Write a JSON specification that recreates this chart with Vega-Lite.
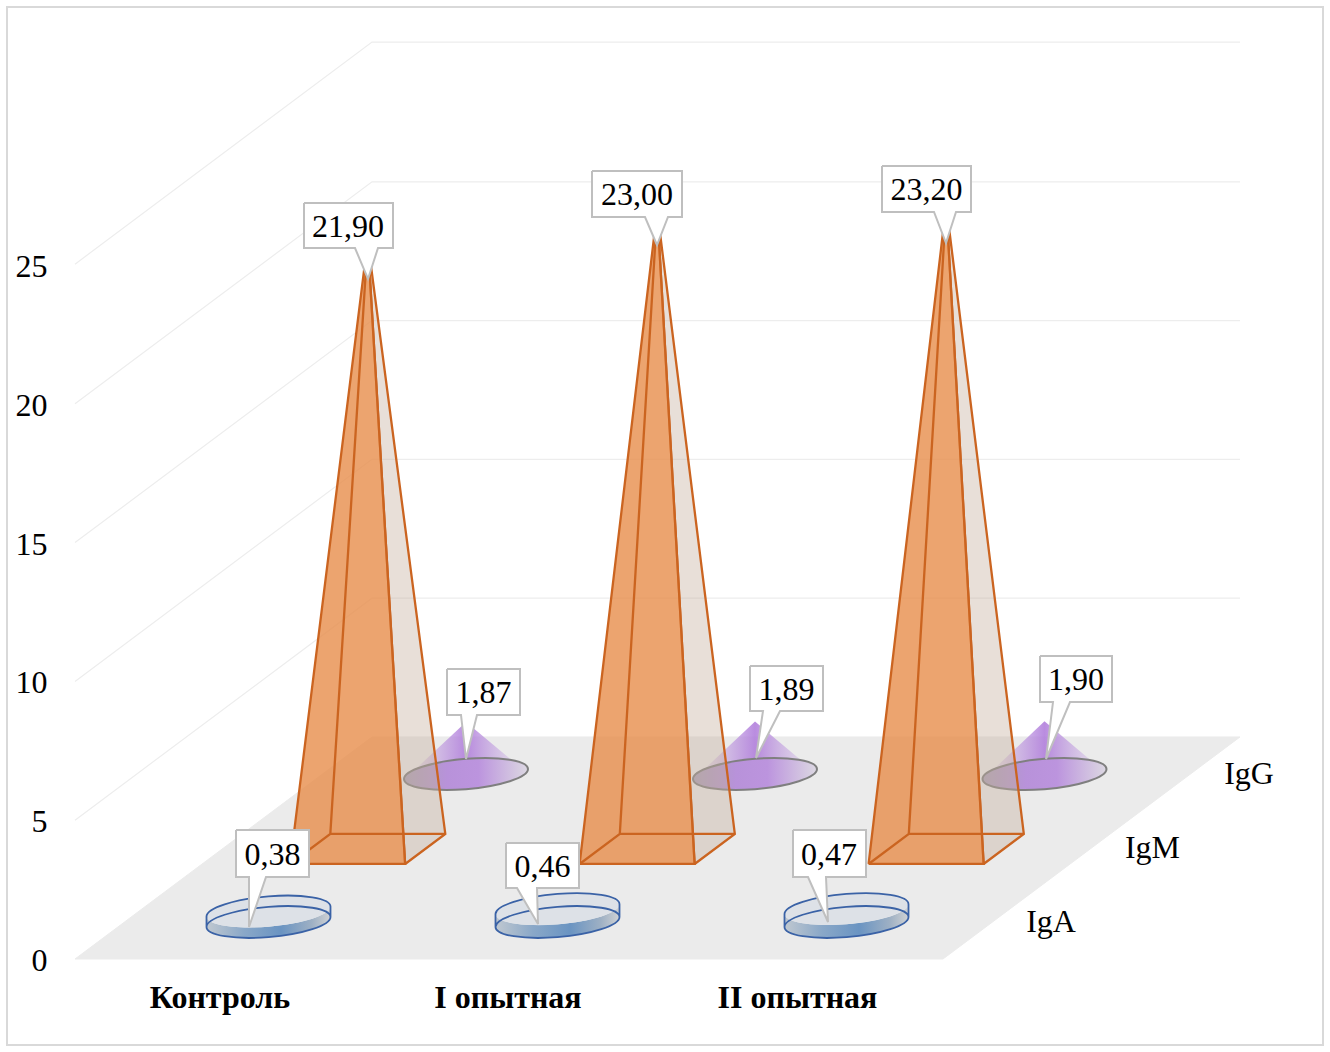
{
"$schema":"https://vega.github.io/schema/vega-lite/v6.json",
"width":1316,"height":1038,"autosize":{"type":"none"},
"padding":{"left":7,"top":7,"right":7,"bottom":7},
"background":"#ffffff",
"view":{"stroke":"#d9d9d9","strokeWidth":2,"fill":"#ffffff"},
"data":{"values":[
{"kind":"grid","poly":"g5","i":0,"u":75,"d":0,"v":5},{"kind":"grid","poly":"g5","i":1,"u":75,"d":3,"v":5},{"kind":"grid","poly":"g5","i":2,"u":943,"d":3,"v":5},
{"kind":"grid","poly":"g10","i":0,"u":75,"d":0,"v":10},{"kind":"grid","poly":"g10","i":1,"u":75,"d":3,"v":10},{"kind":"grid","poly":"g10","i":2,"u":943,"d":3,"v":10},
{"kind":"grid","poly":"g15","i":0,"u":75,"d":0,"v":15},{"kind":"grid","poly":"g15","i":1,"u":75,"d":3,"v":15},{"kind":"grid","poly":"g15","i":2,"u":943,"d":3,"v":15},
{"kind":"grid","poly":"g20","i":0,"u":75,"d":0,"v":20},{"kind":"grid","poly":"g20","i":1,"u":75,"d":3,"v":20},{"kind":"grid","poly":"g20","i":2,"u":943,"d":3,"v":20},
{"kind":"grid","poly":"g25","i":0,"u":75,"d":0,"v":25.03},{"kind":"grid","poly":"g25","i":1,"u":75,"d":3,"v":25.03},{"kind":"grid","poly":"g25","i":2,"u":943,"d":3,"v":25.03},
{"kind":"floor","poly":"floor","i":0,"u":75,"d":0,"v":0},{"kind":"floor","poly":"floor","i":1,"u":943,"d":0,"v":0},{"kind":"floor","poly":"floor","i":2,"u":943,"d":3,"v":0},{"kind":"floor","poly":"floor","i":3,"u":75,"d":3,"v":0},{"kind":"floor","poly":"floor","i":4,"u":75,"d":0,"v":0},

{"kind":"cone","poly":"c1","i":0,"u":158.5,"d":2.5,"v":-0.144},{"kind":"cone","poly":"c1","i":1,"u":218.5,"d":2.5,"v":1.87},{"kind":"cone","poly":"c1","i":2,"u":278.5,"d":2.5,"v":0.072},
{"kind":"cone","poly":"c2","i":0,"u":447.5,"d":2.5,"v":-0.144},{"kind":"cone","poly":"c2","i":1,"u":507.5,"d":2.5,"v":1.89},{"kind":"cone","poly":"c2","i":2,"u":567.5,"d":2.5,"v":0.072},
{"kind":"cone","poly":"c3","i":0,"u":737,"d":2.5,"v":-0.144},{"kind":"cone","poly":"c3","i":1,"u":797,"d":2.5,"v":1.9},{"kind":"cone","poly":"c3","i":2,"u":857,"d":2.5,"v":0.072},
{"kind":"base","series":"IgG","group":"Контроль","u":218.5,"d":2.5,"v":0},
{"kind":"base","series":"IgG","group":"I опытная","u":507.5,"d":2.5,"v":0},
{"kind":"base","series":"IgG","group":"II опытная","u":797,"d":2.5,"v":0},

{"kind":"right","poly":"r1","i":0,"u":278,"d":1.284,"v":0},{"kind":"right","poly":"r1","i":1,"u":278,"d":1.69,"v":0},{"kind":"right","poly":"r1","i":2,"u":220.5,"d":1.487,"v":21.9},{"kind":"right","poly":"r1","i":3,"u":278,"d":1.284,"v":0},
{"kind":"edge","poly":"e1a","i":0,"u":163,"d":1.284,"v":0},{"kind":"edge","poly":"e1a","i":1,"u":163,"d":1.69,"v":0},{"kind":"edge","poly":"e1a","i":2,"u":220.5,"d":1.487,"v":21.9},
{"kind":"edge","poly":"e1b","i":0,"u":163,"d":1.69,"v":0},{"kind":"edge","poly":"e1b","i":1,"u":278,"d":1.69,"v":0},
{"kind":"front","poly":"f1","i":0,"u":163,"d":1.284,"v":0},{"kind":"front","poly":"f1","i":1,"u":278,"d":1.284,"v":0},{"kind":"front","poly":"f1","i":2,"u":220.5,"d":1.487,"v":21.9},{"kind":"front","poly":"f1","i":3,"u":163,"d":1.284,"v":0},

{"kind":"right","poly":"r2","i":0,"u":567.5,"d":1.284,"v":0},{"kind":"right","poly":"r2","i":1,"u":567.5,"d":1.69,"v":0},{"kind":"right","poly":"r2","i":2,"u":510,"d":1.487,"v":23},{"kind":"right","poly":"r2","i":3,"u":567.5,"d":1.284,"v":0},
{"kind":"edge","poly":"e2a","i":0,"u":452.5,"d":1.284,"v":0},{"kind":"edge","poly":"e2a","i":1,"u":452.5,"d":1.69,"v":0},{"kind":"edge","poly":"e2a","i":2,"u":510,"d":1.487,"v":23},
{"kind":"edge","poly":"e2b","i":0,"u":452.5,"d":1.69,"v":0},{"kind":"edge","poly":"e2b","i":1,"u":567.5,"d":1.69,"v":0},
{"kind":"front","poly":"f2","i":0,"u":452.5,"d":1.284,"v":0},{"kind":"front","poly":"f2","i":1,"u":567.5,"d":1.284,"v":0},{"kind":"front","poly":"f2","i":2,"u":510,"d":1.487,"v":23},{"kind":"front","poly":"f2","i":3,"u":452.5,"d":1.284,"v":0},

{"kind":"right","poly":"r3","i":0,"u":856.5,"d":1.284,"v":0},{"kind":"right","poly":"r3","i":1,"u":856.5,"d":1.69,"v":0},{"kind":"right","poly":"r3","i":2,"u":799,"d":1.487,"v":23.2},{"kind":"right","poly":"r3","i":3,"u":856.5,"d":1.284,"v":0},
{"kind":"edge","poly":"e3a","i":0,"u":741.5,"d":1.284,"v":0},{"kind":"edge","poly":"e3a","i":1,"u":741.5,"d":1.69,"v":0},{"kind":"edge","poly":"e3a","i":2,"u":799,"d":1.487,"v":23.2},
{"kind":"edge","poly":"e3b","i":0,"u":741.5,"d":1.69,"v":0},{"kind":"edge","poly":"e3b","i":1,"u":856.5,"d":1.69,"v":0},
{"kind":"front","poly":"f3","i":0,"u":741.5,"d":1.284,"v":0},{"kind":"front","poly":"f3","i":1,"u":856.5,"d":1.284,"v":0},{"kind":"front","poly":"f3","i":2,"u":799,"d":1.487,"v":23.2},{"kind":"front","poly":"f3","i":3,"u":741.5,"d":1.284,"v":0},

{"kind":"body","series":"IgA","group":"Контроль","value":0.38,"u":219,"d":0.5,"v":0},
{"kind":"body2","series":"IgA","group":"I опытная","value":0.46,"u":508,"d":0.5,"v":0},
{"kind":"body2","series":"IgA","group":"II опытная","value":0.47,"u":797,"d":0.5,"v":0},
{"kind":"top","series":"IgA","group":"Контроль","u":219,"d":0.5,"v":0.38},
{"kind":"top","series":"IgA","group":"I опытная","u":508,"d":0.5,"v":0.46},
{"kind":"top","series":"IgA","group":"II опытная","u":797,"d":0.5,"v":0.47},

{"kind":"call","poly":"k1","i":0,"u":304,"d":0,"v":27.233},{"kind":"call","poly":"k1","i":1,"u":393,"d":0,"v":27.233},{"kind":"call","poly":"k1","i":2,"u":393,"d":0,"v":25.612},{"kind":"call","poly":"k1","i":3,"u":378,"d":0,"v":25.612},{"kind":"call","poly":"k1","i":4,"u":368,"d":0,"v":24.496},{"kind":"call","poly":"k1","i":5,"u":355,"d":0,"v":25.612},{"kind":"call","poly":"k1","i":6,"u":304,"d":0,"v":25.612},{"kind":"call","poly":"k1","i":7,"u":304,"d":0,"v":27.233},
{"kind":"call","poly":"k2","i":0,"u":592,"d":0,"v":28.386},{"kind":"call","poly":"k2","i":1,"u":682,"d":0,"v":28.386},{"kind":"call","poly":"k2","i":2,"u":682,"d":0,"v":26.729},{"kind":"call","poly":"k2","i":3,"u":668,"d":0,"v":26.729},{"kind":"call","poly":"k2","i":4,"u":657,"d":0,"v":25.72},{"kind":"call","poly":"k2","i":5,"u":645,"d":0,"v":26.729},{"kind":"call","poly":"k2","i":6,"u":592,"d":0,"v":26.729},{"kind":"call","poly":"k2","i":7,"u":592,"d":0,"v":28.386},
{"kind":"call","poly":"k3","i":0,"u":882,"d":0,"v":28.566},{"kind":"call","poly":"k3","i":1,"u":971,"d":0,"v":28.566},{"kind":"call","poly":"k3","i":2,"u":971,"d":0,"v":26.909},{"kind":"call","poly":"k3","i":3,"u":956,"d":0,"v":26.909},{"kind":"call","poly":"k3","i":4,"u":946,"d":0,"v":25.793},{"kind":"call","poly":"k3","i":5,"u":934,"d":0,"v":26.909},{"kind":"call","poly":"k3","i":6,"u":882,"d":0,"v":26.909},{"kind":"call","poly":"k3","i":7,"u":882,"d":0,"v":28.566},
{"kind":"call","poly":"k4","i":0,"u":447,"d":0,"v":10.447},{"kind":"call","poly":"k4","i":1,"u":520,"d":0,"v":10.447},{"kind":"call","poly":"k4","i":2,"u":520,"d":0,"v":8.79},{"kind":"call","poly":"k4","i":3,"u":477,"d":0,"v":8.79},{"kind":"call","poly":"k4","i":4,"u":466,"d":0,"v":7.205},{"kind":"call","poly":"k4","i":5,"u":461,"d":0,"v":8.79},{"kind":"call","poly":"k4","i":6,"u":447,"d":0,"v":8.79},{"kind":"call","poly":"k4","i":7,"u":447,"d":0,"v":10.447},
{"kind":"call","poly":"k5","i":0,"u":750,"d":0,"v":10.555},{"kind":"call","poly":"k5","i":1,"u":823,"d":0,"v":10.555},{"kind":"call","poly":"k5","i":2,"u":823,"d":0,"v":8.934},{"kind":"call","poly":"k5","i":3,"u":780,"d":0,"v":8.934},{"kind":"call","poly":"k5","i":4,"u":756,"d":0,"v":7.241},{"kind":"call","poly":"k5","i":5,"u":763,"d":0,"v":8.934},{"kind":"call","poly":"k5","i":6,"u":750,"d":0,"v":8.934},{"kind":"call","poly":"k5","i":7,"u":750,"d":0,"v":10.555},
{"kind":"call","poly":"k6","i":0,"u":1040,"d":0,"v":10.915},{"kind":"call","poly":"k6","i":1,"u":1112,"d":0,"v":10.915},{"kind":"call","poly":"k6","i":2,"u":1112,"d":0,"v":9.258},{"kind":"call","poly":"k6","i":3,"u":1070,"d":0,"v":9.258},{"kind":"call","poly":"k6","i":4,"u":1046,"d":0,"v":7.205},{"kind":"call","poly":"k6","i":5,"u":1053,"d":0,"v":9.258},{"kind":"call","poly":"k6","i":6,"u":1040,"d":0,"v":9.258},{"kind":"call","poly":"k6","i":7,"u":1040,"d":0,"v":10.915},
{"kind":"call","poly":"k7","i":0,"u":236,"d":0,"v":4.647},{"kind":"call","poly":"k7","i":1,"u":309,"d":0,"v":4.647},{"kind":"call","poly":"k7","i":2,"u":309,"d":0,"v":2.954},{"kind":"call","poly":"k7","i":3,"u":266,"d":0,"v":2.954},{"kind":"call","poly":"k7","i":4,"u":249,"d":0,"v":1.153},{"kind":"call","poly":"k7","i":5,"u":249,"d":0,"v":2.954},{"kind":"call","poly":"k7","i":6,"u":236,"d":0,"v":2.954},{"kind":"call","poly":"k7","i":7,"u":236,"d":0,"v":4.647},
{"kind":"call","poly":"k8","i":0,"u":506,"d":0,"v":4.179},{"kind":"call","poly":"k8","i":1,"u":579,"d":0,"v":4.179},{"kind":"call","poly":"k8","i":2,"u":579,"d":0,"v":2.558},{"kind":"call","poly":"k8","i":3,"u":537,"d":0,"v":2.558},{"kind":"call","poly":"k8","i":4,"u":538,"d":0,"v":1.261},{"kind":"call","poly":"k8","i":5,"u":517,"d":0,"v":2.558},{"kind":"call","poly":"k8","i":6,"u":506,"d":0,"v":2.558},{"kind":"call","poly":"k8","i":7,"u":506,"d":0,"v":4.179},
{"kind":"call","poly":"k9","i":0,"u":793,"d":0,"v":4.647},{"kind":"call","poly":"k9","i":1,"u":866,"d":0,"v":4.647},{"kind":"call","poly":"k9","i":2,"u":866,"d":0,"v":2.954},{"kind":"call","poly":"k9","i":3,"u":826,"d":0,"v":2.954},{"kind":"call","poly":"k9","i":4,"u":828,"d":0,"v":1.333},{"kind":"call","poly":"k9","i":5,"u":808,"d":0,"v":2.954},{"kind":"call","poly":"k9","i":6,"u":793,"d":0,"v":2.954},{"kind":"call","poly":"k9","i":7,"u":793,"d":0,"v":4.647},

{"kind":"text","label":"21,90","group":"Контроль","series":"IgM","value":21.9,"u":348,"d":0,"v":26.42},
{"kind":"text","label":"23,00","group":"I опытная","series":"IgM","value":23.0,"u":637,"d":0,"v":27.56},
{"kind":"text","label":"23,20","group":"II опытная","series":"IgM","value":23.2,"u":926.5,"d":0,"v":27.74},
{"kind":"text","label":"1,87","group":"Контроль","series":"IgG","value":1.87,"u":483.5,"d":0,"v":9.62},
{"kind":"text","label":"1,89","group":"I опытная","series":"IgG","value":1.89,"u":786.5,"d":0,"v":9.74},
{"kind":"text","label":"1,90","group":"II опытная","series":"IgG","value":1.9,"u":1076,"d":0,"v":10.09},
{"kind":"text","label":"0,38","group":"Контроль","series":"IgA","value":0.38,"u":272.5,"d":0,"v":3.8},
{"kind":"text","label":"0,46","group":"I опытная","series":"IgA","value":0.46,"u":542.5,"d":0,"v":3.37},
{"kind":"text","label":"0,47","group":"II опытная","series":"IgA","value":0.47,"u":829,"d":0,"v":3.8},
{"kind":"name","label":"IgA","u":1001.5,"d":0.5,"v":0},
{"kind":"name","label":"IgM","u":1004,"d":1.5,"v":0},
{"kind":"name","label":"IgG","u":1001.5,"d":2.5,"v":0},
{"kind":"cat","label":"Контроль","u":220,"d":0,"v":-1.405},
{"kind":"cat","label":"I опытная","u":508,"d":0,"v":-1.405},
{"kind":"cat","label":"II опытная","u":797.5,"d":0,"v":-1.405}
]},
"transform":[
{"calculate":"datum.u + datum.d * 99","as":"sx"},
{"calculate":"datum.v + datum.d * 2.666","as":"sy"}
],
"encoding":{
"x":{"field":"sx","type":"quantitative","scale":{"domain":[7,1323],"nice":false,"zero":false},"axis":null},
"y":{"field":"sy","type":"quantitative","scale":{"domain":[-3.098,34.294],"nice":false,"zero":false},
"axis":{"title":null,"values":[0,5,10,15,20,25],"domain":false,"ticks":false,"grid":false,"labelFont":"Liberation Serif","labelFontSize":32,"labelColor":"#000000","labelPadding":-40,"labelAlign":"right","labelOffset":1.5}}
},
"layer":[
{"transform":[{"filter":"datum.kind==='grid'"}],"mark":{"type":"line","stroke":"#ededed","strokeWidth":1.2},"encoding":{"detail":{"field":"poly"},"order":{"field":"i"}}},
{"transform":[{"filter":"datum.kind==='floor'"}],"mark":{"type":"line","fill":"#ebebeb","stroke":"#ebebeb","strokeWidth":1},"encoding":{"detail":{"field":"poly"},"order":{"field":"i"}}},
{"transform":[{"filter":"datum.kind==='cone'"}],"mark":{"type":"line","strokeOpacity":0,"fill":{"gradient":"linear","x1":0,"y1":0,"x2":1,"y2":0,"stops":[{"offset":0,"color":"rgba(180,135,220,0)"},{"offset":0.25,"color":"rgba(180,135,220,0.45)"},{"offset":0.5,"color":"rgba(178,128,220,0.9)"},{"offset":0.75,"color":"rgba(180,135,220,0.45)"},{"offset":1,"color":"rgba(180,135,220,0)"}]}},"encoding":{"detail":{"field":"poly"},"order":{"field":"i"}}},
{"transform":[{"filter":"datum.kind==='base'"}],"mark":{"type":"point","filled":true,"opacity":1,"size":15376,"shape":"M1,-.08 C1,.055 .552,.201 0,.245 C-.552,.289 -1,.215 -1,.08 C-1,-.055 -.552,-.201 0,-.245 C.552,-.289 1,-.215 1,-.08 Z","stroke":"#7f7f7f","strokeWidth":2,"fill":{"gradient":"linear","x1":0,"y1":0,"x2":1,"y2":0,"stops":[{"offset":0,"color":"#aaa2b4"},{"offset":0.35,"color":"#b892da"},{"offset":0.6,"color":"#bc94de"},{"offset":1,"color":"#dcd8e2"}]}}},
{"transform":[{"filter":"datum.kind==='right'"}],"mark":{"type":"line","fill":"#c5af9d","fillOpacity":0.4,"stroke":"#cb6420","strokeWidth":2.3},"encoding":{"detail":{"field":"poly"},"order":{"field":"i"}}},
{"transform":[{"filter":"datum.kind==='front'"}],"mark":{"type":"line","fill":"#e78d4b","fillOpacity":0.8,"stroke":"#cb6420","strokeWidth":2.3},"encoding":{"detail":{"field":"poly"},"order":{"field":"i"}}},
{"transform":[{"filter":"datum.kind==='edge'"}],"mark":{"type":"line","stroke":"#cb6420","strokeWidth":2.3},"encoding":{"detail":{"field":"poly"},"order":{"field":"i"}}},
{"transform":[{"filter":"datum.kind==='body'"}],"mark":{"type":"point","filled":true,"opacity":1,"size":15376,"strokeWidth":0,"shape":"M-1,-.089 L-1,.08 C-1,.215 -.552,.289 0,.245 C.552,.201 1,.055 1,-.08 L1,-.249 C1,-.114 .552,.032 0,.076 C-.552,.12 -1,.046 -1,-.089 Z","fill":{"gradient":"linear","x1":0,"y1":0,"x2":1,"y2":0,"stops":[{"offset":0,"color":"#c0c8d0"},{"offset":0.3,"color":"#8aa8c8"},{"offset":0.6,"color":"#6a94c2"},{"offset":0.85,"color":"#9eb0c4"},{"offset":1,"color":"#d0d2d4"}]}}},
{"transform":[{"filter":"datum.kind==='body2'"}],"mark":{"type":"point","filled":true,"opacity":1,"size":15376,"strokeWidth":0,"shape":"M-1,-.128 L-1,.08 C-1,.215 -.552,.289 0,.245 C.552,.201 1,.055 1,-.08 L1,-.288 C1,-.153 .552,-.007 0,.037 C-.552,.081 -1,.007 -1,-.128 Z","fill":{"gradient":"linear","x1":0,"y1":0,"x2":1,"y2":0,"stops":[{"offset":0,"color":"#c0c8d0"},{"offset":0.3,"color":"#8aa8c8"},{"offset":0.6,"color":"#6a94c2"},{"offset":0.85,"color":"#9eb0c4"},{"offset":1,"color":"#d0d2d4"}]}}},
{"transform":[{"filter":"datum.kind==='top'"}],"mark":{"type":"point","filled":true,"opacity":1,"size":15376,"strokeWidth":0,"shape":"M1,-.08 C1,.055 .552,.201 0,.245 C-.552,.289 -1,.215 -1,.08 C-1,-.055 -.552,-.201 0,-.245 C.552,-.289 1,-.215 1,-.08 Z","fill":"#dde1e7"}},
{"transform":[{"filter":"datum.kind==='body'"}],"mark":{"type":"point","filled":false,"opacity":1,"size":15376,"fill":null,"shape":"M-1,-.089 C-1,-.224 -.552,-.37 0,-.414 C.552,-.458 1,-.384 1,-.249 L1,-.08 C1,.055 .552,.201 0,.245 C-.552,.289 -1,.215 -1,.08 Z M-1,.08 C-1,-.055 -.552,-.201 0,-.245 C.552,-.289 1,-.215 1,-.08","stroke":"#3a62a6","strokeWidth":1.8}},
{"transform":[{"filter":"datum.kind==='body2'"}],"mark":{"type":"point","filled":false,"opacity":1,"size":15376,"fill":null,"shape":"M-1,-.128 C-1,-.263 -.552,-.409 0,-.453 C.552,-.497 1,-.423 1,-.288 L1,-.08 C1,.055 .552,.201 0,.245 C-.552,.289 -1,.215 -1,.08 Z M-1,.08 C-1,-.055 -.552,-.201 0,-.245 C.552,-.289 1,-.215 1,-.08","stroke":"#3a62a6","strokeWidth":1.8}},
{"transform":[{"filter":"datum.kind==='call'"}],"mark":{"type":"line","fill":"#ffffff","stroke":"#bfbfbf","strokeWidth":2},"encoding":{"detail":{"field":"poly"},"order":{"field":"i"}}},
{"transform":[{"filter":"datum.kind==='text'"}],"mark":{"type":"text","font":"Liberation Serif","fontSize":32,"color":"#000000","align":"center","baseline":"middle","dy":1.5},"encoding":{"text":{"field":"label"}}},
{"transform":[{"filter":"datum.kind==='name'"}],"mark":{"type":"text","font":"Liberation Serif","fontSize":32,"color":"#000000","align":"center","baseline":"middle"},"encoding":{"text":{"field":"label"}}},
{"transform":[{"filter":"datum.kind==='cat'"}],"mark":{"type":"text","font":"Liberation Serif","fontSize":32,"fontWeight":"bold","color":"#000000","align":"center","baseline":"middle"},"encoding":{"text":{"field":"label"}}}
]
}
